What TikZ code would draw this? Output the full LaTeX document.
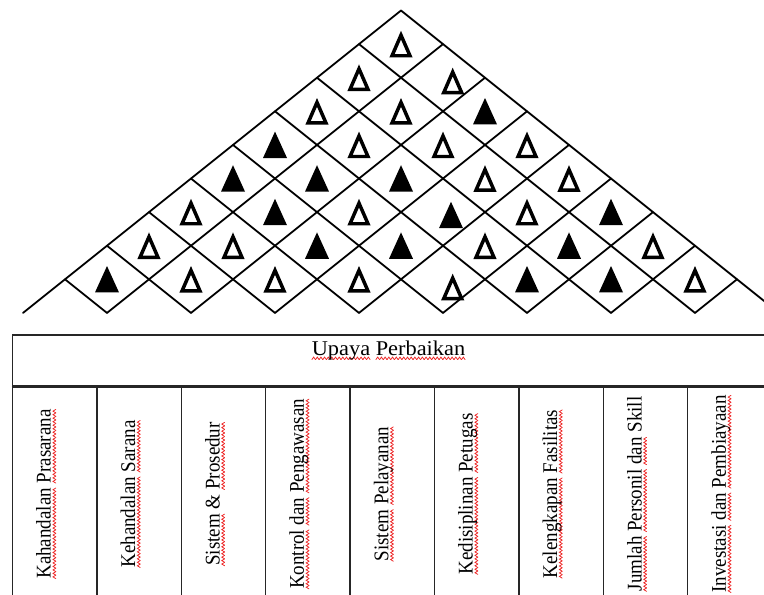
\documentclass[tikz,border=0pt]{standalone}
\usepackage{fontspec}
\setmainfont{Liberation Serif}
\usepackage{graphicx}
\usepackage{xcolor}
\usepackage{tikz}
\usetikzlibrary{positioning}
\definecolor{spellred}{rgb}{0.93,0.15,0.15}
\definecolor{rule}{rgb}{0.15,0.15,0.15}
\newsavebox{\wavebox}
\newsavebox{\wordbox}
\newcommand{\squig}[1]{\sbox{\wordbox}{#1}%
  \rlap{\raisebox{-4.6pt}{\hbox to \wd\wordbox{\xleaders\copy\wavebox\hfill}}}\usebox{\wordbox}}

\begin{document}
\sbox{\wavebox}{\begin{pgfpicture}
  \pgfpathrectangle{\pgfpointorigin}{\pgfpoint{3.4pt}{2.5pt}}\pgfusepath{use as bounding box}
  \pgfsetlinewidth{0.75pt}\pgfsetroundcap\pgfsetstrokecolor{spellred}
  \pgfpathmoveto{\pgfpointorigin}\pgfpathlineto{\pgfpoint{1.7pt}{2.5pt}}
  \pgfpathlineto{\pgfpoint{3.4pt}{0pt}}\pgfusepath{stroke}
\end{pgfpicture}}
\begin{tikzpicture}[
  x=1pt, y=-1pt,
  grid/.style={line width=1.8pt, line cap=round},
  colbox/.style={draw=rule, line width=1.5pt, minimum width=84.4pt,
                 minimum height=214pt, inner sep=0pt},
  hdrbox/.style={draw=rule, line width=1.8pt, minimum width=759.6pt,
                 minimum height=51pt, inner sep=0pt},
  lbl/.style={rotate=90, anchor=base, inner sep=0pt, font=\fontsize{19}{23}\selectfont},
  ttl/.style={anchor=base, inner sep=0pt, font=\fontsize{21}{25}\selectfont},
  pics/opentri/.style={code={\fill[even odd rule] (0,-13.3)--(-11.6,13.3)--(11.6,13.3)--cycle
                                 (0,-4.6)--(-6.3,9.9)--(6.3,9.9)--cycle;}},
  pics/solidtri/.style={code={\fill (0,-13.3)--(-12,13.1)--(12,13.1)--cycle;}}
]
\useasboundingbox (0,0) rectangle (764,595);

% roof lattice
\foreach \m in {1,...,9}
  \draw[grid] ({401+(\m-9)*42},{10.5+(9-\m)*33.6}) -- ({401+(2*\m-9)*42},312.9);
\foreach \n in {0,...,8}
  \draw[grid] ({401+\n*42},{10.5+\n*33.6}) -- ({401+(2*\n-9)*42},312.9);

% correlation marks, cell (i,j)
\foreach \i/\j/\t/\dx/\dy in {
  1/9/opentri/0/0,
  1/8/opentri/0/0, 2/9/opentri/9.7/3.3,
  1/7/opentri/0/0, 2/8/opentri/0/0, 3/9/solidtri/0/0,
  1/6/solidtri/0/0, 2/7/opentri/0/0, 3/8/opentri/0/0, 4/9/opentri/0/0,
  1/5/solidtri/0/0, 2/6/solidtri/0/0, 3/7/solidtri/0/0, 4/8/opentri/0/0, 5/9/opentri/0/0,
  1/4/opentri/0/0, 2/5/solidtri/0/0, 3/6/opentri/0/0, 4/7/solidtri/8/3, 5/8/opentri/0/0, 6/9/solidtri/0/0,
  1/3/opentri/0/0, 2/4/opentri/0/0, 3/5/solidtri/0/0, 4/6/solidtri/0/0, 5/7/opentri/0/0, 6/8/solidtri/0/0, 7/9/opentri/0/0,
  1/2/solidtri/0/0, 2/3/opentri/0/0, 3/4/opentri/0/0, 4/5/opentri/0/0, 5/6/opentri/9.7/7.7, 6/7/solidtri/0/0, 7/8/solidtri/0/0, 8/9/opentri/0/0}
  \pic at ({401+(\i+\j-10)*42+\dx},{10.5+(9-\j+\i)*33.6+\dy}) {\t};

% columns
\foreach \coltext [count=\k] in {
  {\squig{Kahandalan} \squig{Prasarana}},
  {\squig{Kehandalan} \squig{Sarana}},
  {\squig{Sistem} \& \squig{Prosedur}},
  {\squig{Kontrol} \squig{dan} \squig{Pengawasan}},
  {\squig{Sistem} \squig{Pelayanan}},
  {\squig{Kedisiplinan} \squig{Petugas}},
  {\squig{Kelengkapan} \squig{Fasilitas}},
  {\squig{Jumlah} \squig{Personil} \squig{dan} Skill},
  {\squig{Investasi} \squig{dan} \squig{Pembiayaan}}}
{
  \node[colbox] (col\k) at ({12.5+(\k-0.5)*84.4},493) {};
  \node[lbl] (lbl\k) at ({12.5+(\k-0.5)*84.4-4},494) {\scalebox{1}[1.1]{\coltext}};
}

\node[hdrbox] (hdr) at (392.3,360.5) {};
\draw[rule, line width=2.8pt] (hdr.south west) -- (hdr.south east);
\node[ttl] (title) at (388.5,355) {\scalebox{1.065}[1]{\squig{Upaya} \squig{Perbaikan}}};

\end{tikzpicture}
\end{document}
